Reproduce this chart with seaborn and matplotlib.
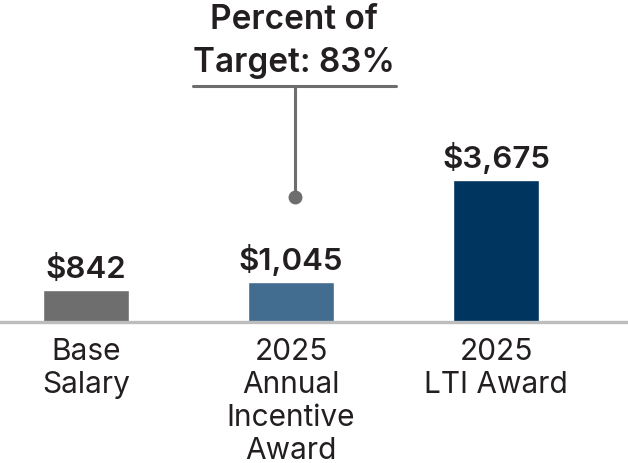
import matplotlib
matplotlib.use("Agg")
import matplotlib.pyplot as plt
import seaborn as sns
import pandas as pd

# Dane (w tys. USD)
categories = ["Base\nSalary", "2025\nAnnual\nIncentive\nAward", "2025\nLTI Award"]
values = [842, 1045, 3675]
bar_colors = ["#6e6e6e", "#426c90", "#00355f"]
callout_text = "Percent of\nTarget: 83%"

df = pd.DataFrame({"category": categories, "value": values})

sns.set_theme(style="white")
plt.rcParams["font.family"] = ["Inter", "DejaVu Sans"]

text_color = "#231f20"

fig = plt.figure(figsize=(6.28, 4.64), dpi=100)
ax = fig.add_axes([0, 1 - 323 / 464, 1, 323 / 464])

sns.barplot(data=df, x="category", y="value", hue="category",
            palette=bar_colors, legend=False, width=0.42, saturation=1, ax=ax)

ax.set_xlim(-86 / 205, (628 - 86) / 205)
ax.set_ylim(0, 323 / 0.03856)

# Etykiety wartości nad słupkami
for c in ax.containers:
    bars = [b for b in c if b is not None]
    for b in bars:
        v = b.get_height()
        ax.annotate(f"${v:,.0f}", (b.get_x() + b.get_width() / 2, v),
                    xytext=(0, 5), textcoords="offset points",
                    ha="center", va="bottom", fontsize=22.5,
                    fontweight="semibold", color=text_color)

# Oś X
ax.set_xlabel("")
ax.set_ylabel("")
ax.set_yticks([])
ax.tick_params(axis="x", length=0, pad=11, labelsize=21.5, labelcolor=text_color)
for lbl in ax.get_xticklabels():
    lbl.set_linespacing(1.23)
for s in ["top", "left", "right"]:
    ax.spines[s].set_visible(False)
ax.spines["bottom"].set_color("#bdbdbd")
ax.spines["bottom"].set_linewidth(2.4)

# Adnotacja nad drugim słupkiem
line_color = "#6d6d6d"
y_dot = (323 - 198) / 0.03856
y_bar = (323 - 87) / 0.03856
ax.plot([1.02, 1.02], [y_dot, y_bar], color=line_color, lw=2.2, clip_on=False)
ax.plot([0.522, 1.512], [y_bar, y_bar], color=line_color, lw=2.2, clip_on=False)
ax.plot([1.02], [y_dot], marker="o", markersize=9, color=line_color, clip_on=False)
ax.text(1.015, y_bar + 8 / 0.03856, callout_text, ha="center", va="bottom",
        fontsize=24, fontweight="semibold", color=text_color, linespacing=1.45)

fig.savefig("out.png", dpi=100)
